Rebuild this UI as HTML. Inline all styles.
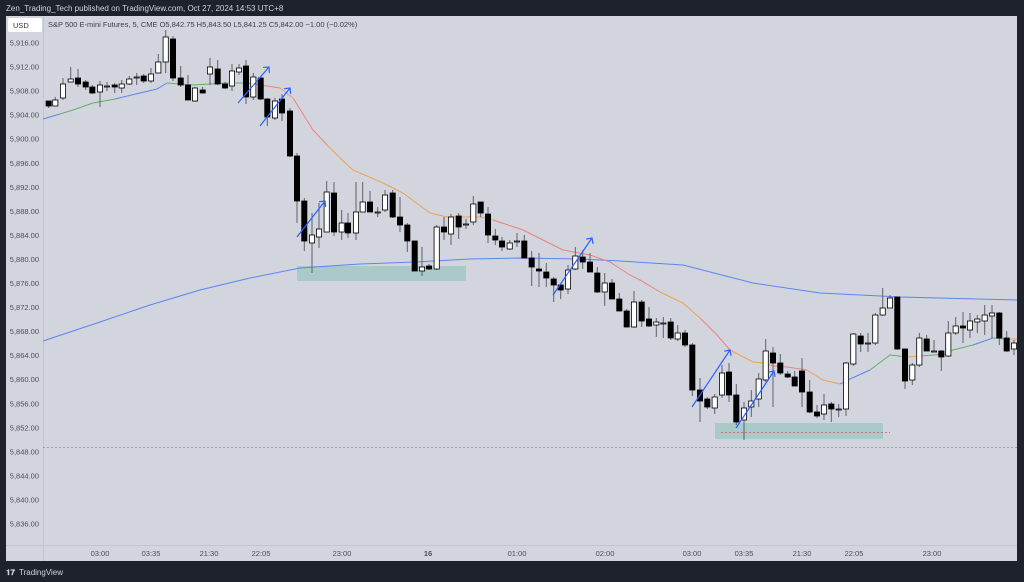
<!DOCTYPE html>
<html><head><meta charset="utf-8"><style>
html,body{margin:0;padding:0;background:#1e222d;width:1024px;height:582px;overflow:hidden;font-family:"Liberation Sans",sans-serif}
svg{position:absolute;left:0;top:0}
</style></head><body>
<svg id="s" width="1024" height="582" xmlns="http://www.w3.org/2000/svg">
<rect x="0" y="0" width="1024" height="582" fill="#1e222d"/>
<text x="6" y="11" font-size="8" fill="#d1d4dc">Zen_Trading_Tech published on TradingView.com, Oct 27, 2024 14:53 UTC+8</text>
<rect x="6" y="16" width="1011" height="545" fill="#d2d5de"/>
<line x1="43.5" y1="16" x2="43.5" y2="561" stroke="#c2c5cd"/>
<line x1="6" y1="545.5" x2="1017" y2="545.5" stroke="#c2c5cd"/>
<rect x="8" y="18" width="34" height="14" rx="2" fill="#ffffff"/>
<text x="13" y="28" font-size="7.5" fill="#333">USD</text>
<text x="48" y="27" font-size="7.5" fill="#3a3e4a">S&amp;P 500 E-mini Futures, 5, CME  O5,842.75  H5,843.50  L5,841.25  C5,842.00  −1.00 (−0.02%)</text>
<rect x="297" y="266" width="169" height="15" fill="#a9cac9"/>
<rect x="715" y="423" width="168" height="16" fill="#a9cac9"/>
<line x1="43" y1="447.5" x2="1017" y2="447.5" stroke="#8a8e99" stroke-width="0.8" stroke-dasharray="2,2"/>
<line x1="721" y1="432.5" x2="890" y2="432.5" stroke="#d9534f" stroke-width="0.8" stroke-dasharray="2,2"/>
<g id="ax" font-size="7.5" fill="#4a4e5a" text-anchor="end"></g>
<g font-size="7.5" fill="#4a4e5a" text-anchor="middle">
<text x="100" y="556">03:00</text><text x="151" y="556">03:35</text><text x="209" y="556">21:30</text><text x="261" y="556">22:05</text><text x="342" y="556">23:00</text><text x="428" y="556" font-weight="bold">16</text><text x="517" y="556">01:00</text><text x="605" y="556">02:00</text><text x="692" y="556">03:00</text><text x="744" y="556">03:35</text><text x="802" y="556">21:30</text><text x="854" y="556">22:05</text><text x="932" y="556">23:00</text>
</g>
<polyline fill="none" stroke="#5b86f0" stroke-width="1" points="43,341 100,322 150,305 200,290 250,278 300,268 360,264 415,262 470,259 520,258 580,259 620,261 683,265 753,283 820,293 900,297 1017,300"/>
<polyline fill="none" stroke="#5b86f0" stroke-width="1" points="43,119 60,114"/>
<polyline fill="none" stroke="#6aaa6a" stroke-width="1" points="60,114 73,110 93,103 115,99"/>
<polyline fill="none" stroke="#5b86f0" stroke-width="1" points="115,99 140,93 157,89 167,83"/>
<polyline fill="none" stroke="#6aaa6a" stroke-width="1" points="167,83 193,85 227,83 247,83 262,85"/>
<polyline fill="none" stroke="#f08080" stroke-width="1" points="262,85 267,86 280,88"/>
<polyline fill="none" stroke="#f0a050" stroke-width="1" points="280,88 293,98"/>
<polyline fill="none" stroke="#f08080" stroke-width="1" points="293,98 313,130 327,145"/>
<polyline fill="none" stroke="#f0a050" stroke-width="1" points="327,145 340,158 353,170 383,183 403,193 430,213 447,217 480,217 493,220"/>
<polyline fill="none" stroke="#f08080" stroke-width="1" points="493,220 523,230 563,250 590,255 610,262 630,275 640,280 660,292"/>
<polyline fill="none" stroke="#f0a050" stroke-width="1" points="660,292 683,303 700,318"/>
<polyline fill="none" stroke="#f08080" stroke-width="1" points="700,318 717,335 730,350"/>
<polyline fill="none" stroke="#f0a050" stroke-width="1" points="730,350 753,362 763,363 773,366"/>
<polyline fill="none" stroke="#f08080" stroke-width="1" points="773,366 787,367 807,370"/>
<polyline fill="none" stroke="#f0a050" stroke-width="1" points="807,370 823,380 840,384"/>
<polyline fill="none" stroke="#5b86f0" stroke-width="1" points="840,384 850,379 870,370"/>
<polyline fill="none" stroke="#6aaa6a" stroke-width="1" points="870,370 890,355 907,357"/>
<polyline fill="none" stroke="#f0a050" stroke-width="1" points="907,357 920,356"/>
<polyline fill="none" stroke="#6aaa6a" stroke-width="1" points="920,356 947,354 953,350 973,345"/>
<polyline fill="none" stroke="#5b86f0" stroke-width="1" points="973,345 993,338"/>
<polyline fill="none" stroke="#6aaa6a" stroke-width="1" points="993,338 1005,339"/>
<polyline fill="none" stroke="#f0a050" stroke-width="1" points="1005,339 1017,339"/>
<g id="c"></g>
<g id="ar" stroke="#2962ff" stroke-width="1.2" fill="none"></g>
<rect x="0" y="561" width="1024" height="21" fill="#1e222d"/>
<text x="6" y="575" font-size="8" font-weight="bold" fill="#d1d4dc">𝟏𝟕</text>
<text x="19" y="575" font-size="8" fill="#d1d4dc">TradingView</text>
</svg>
<script>
var NS="http://www.w3.org/2000/svg";
function el(t,a,p){var e=document.createElementNS(NS,t);for(var k in a)e.setAttribute(k,a[k]);p.appendChild(e);return e;}
var ax=document.getElementById('ax');
for(var i=0;i<=20;i++){var p=5916-4*i,y=43+i*24.05;var s=p.toString();s=s[0]+','+s.slice(1)+'.00';var t=el('text',{x:39,y:(y+2.5).toFixed(1)},ax);t.textContent=s;}
// x, wickTop, bodyTop, bodyBot, wickBot, bull
var C=[[48.7,101,101,106,108,0],[55.3,97,100,106,106,1],[63,78,84,98,100,1],[70.7,67,79,82,82,1],[78,69,78,84,87,0],[85.7,80,82,87,90,0],[92.3,85,87,93,94,0],[100,81,85,92,107,1],[107,82,86,86.6,91,1],[114.7,83,85,87,93,0],[121.7,80,84,88,93,1],[129.3,76,79,84,85,1],[136.7,73,77,77.6,85,1],[143.7,74,76,81,83,0],[151,68,74,81,83,1],[158.3,54,62,73,73,1],[165.7,30,37,62,73,1],[173,36,39,78,81,0],[180.7,66,78,85,87,0],[188,75,85,100,100,0],[195,87,88,101,102,1],[202.7,87,90,93,93,0],
[210,58,67,74,85,1],[217.7,60,69,84,85,0],[225,82,84,88,89,0],[232,64,71,86,91,1],[239,64,68,72,75,1],[246,60,66,97,104,0],[253.3,73,77,97,100,1],[260.7,77,78,99,100,0],[267.3,98,99,117,126,0],[275,98,101,118,120,1],[282,94,99,113,121,0],[290,108,111,156,157,0],[297,153,156,201,223,0],[304.3,198,201,241,251,0],
[312,213,235,243,273,1],[319,203,229,237,248,1],[326.7,181,192,232,232,1],[334,182,193,232,236,0],[341.7,210,223,232,240,1],[348,213,223,233,238,0],[356,182,212,233,240,1],[362.7,182,202,212,212,1],[370,191,202,212,212,0],[377.7,207,212,212.6,217,1],[385,190,195,210,212,1],[392.7,190,193,217,218,0],[400,197,217,225,232,0],[407.3,223,225,241,252,0],[414.7,241,241,271,271,0],[422,247,267,271,276,1],[429,264,266,269,270,0],[436.7,225,227,269,270,1],[444,217,227,232,240,0],[451,214,217,234,245,1],[458.7,213,216,227,239,0],[466,219,224,224.6,229,1],[473.3,196,204,222,225,1],[480.7,202,202,213,217,0],[488,207,214,235,243,0],[495.3,229,236,240,245,0],[502,237,241,247,251,0],[509.7,240,243,249,250,1],[517,233,241,241.6,247,1],[524.3,235,241,258,258,0],[531.7,251,258,267,286,0],[539,253,269,271,287,0],[546.3,263,272,278,287,0],[553.7,277,279,285,302,0],[560.7,284,285,290,299,0],[568,265,270,289,294,1],[575.3,247,256,269,270,1],[582.7,250,257,262,269,0],[590,253,262,272,272,0],[597.3,267,273,292,293,0],[604.7,273,283,292,306,1],[612,279,283,299,299,0],[619.3,293,299,311,311,0],[626.7,309,311,327,327,0],
[634,291,302,327,328,1],[641.7,300,302,321,327,0],[649,307,319,326,327,0],[656.3,318,322,325,337,1],[663.3,317,323,323.6,338,1],[670.7,318,322,338,340,0],[677.7,325,333,339,341,1],[685,330,333,345,347,0],[692.3,343,345,390,396,0],[700,378,390,401,422,0],[707.3,397,399,407,409,0],[714.7,394,397,408,414,1],[722,365,373,395,398,1],[729,363,372,395,402,0],[736.3,384,395,422,425,0],[744,402,408,420,440,1],[751.3,390,401,407,417,1],[758.7,373,379,399,407,1],[765.7,339,351,380,382,1],[773,347,353,363,407,0],[780.3,354,363,373,375,0],[787.7,371,374,377,378,0],[794.7,371,377,386,386,0],[802,358,371,392,407,0],[809.7,380,392,412,413,0],[817,405,412,416,418,0],[824,394,405,414,420,1],[831.3,402,404,409,422,0],[838.7,404,409,409.6,417,1],[846,362,363,409,416,1],[853.3,333,334,364,366,1],[860.7,333,336,344,352,0],[868,333,343,343.6,352,1],[875.3,313,315,343,345,1],[882.7,288,308,315,316,1],[890,295,298,308,308,1],[897.3,297,297,349,350,0],[905,349,349,381,389,0],[912.3,363,365,380,385,1],[919.3,333,338,365,367,1],[926.7,335,339,351,351,0],[934,340,351,351.6,352,1],[941.3,350,351,357,371,0],[948.3,321,333,356,357,1],[955.7,317,326,333,335,1],[963,312,326,328,343,0],[970,313,321,330,338,1],[977.3,315,319,322,333,1],[984.7,305,315,321,335,1],[992,305,313,316,338,1],[999.3,312,313,338,345,0],[1006.7,331,338,351,352,0],[1014,340,343,349,355,1]];
var g=document.getElementById('c');
C.forEach(function(c){var x=c[0];el('line',{x1:x,x2:x,y1:c[1],y2:c[4],stroke:'#5d606b','stroke-width':1},g);
el('rect',{x:x-2.6,y:c[2],width:5.2,height:Math.max(1,c[3]-c[2]),fill:c[5]?'#ffffff':'#000000',stroke:'#000','stroke-width':0.8},g);});
var ar=document.getElementById('ar');
[[238,103,269,67],[260,126,290,88],[297,237,325,201],[553,295,592,238],[692,407,730,350],[736,428,774,371]].forEach(function(a){
el('line',{x1:a[0],y1:a[1],x2:a[2],y2:a[3]},ar);
var dx=a[2]-a[0],dy=a[3]-a[1],L=Math.hypot(dx,dy),ux=dx/L,uy=dy/L,h=6;
var p1=[a[2]-h*(ux*0.7-uy*0.7),a[3]-h*(uy*0.7+ux*0.7)],p2=[a[2]-h*(ux*0.7+uy*0.7),a[3]-h*(uy*0.7-ux*0.7)];
el('polyline',{points:p1.join(',')+' '+a[2]+','+a[3]+' '+p2.join(',')},ar);});
</script>
</body></html>
